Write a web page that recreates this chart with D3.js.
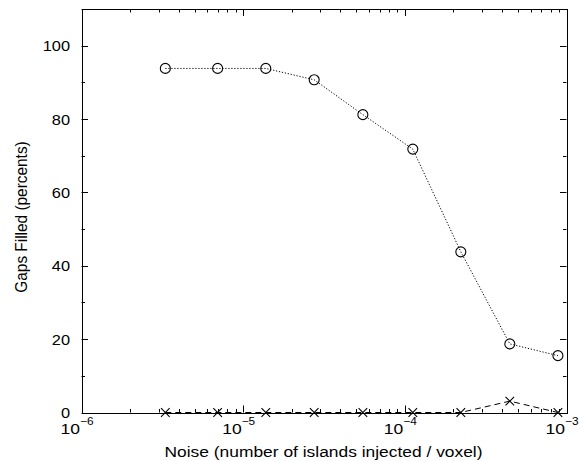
<!DOCTYPE html>
<html>
<head>
<meta charset="utf-8">
<script src="https://cdn.jsdelivr.net/npm/d3@7"></script>
<style>
  body { margin: 0; background: #fff; }
  text { font-family: "Liberation Sans", Arial, sans-serif; fill: #000; }
</style>
</head>
<body>
<div id="chart"></div>
<script>
// noise levels (islands injected / voxel)
var noise = [3.3e-6, 6.95e-6, 1.38e-5, 2.75e-5, 5.5e-5, 1.12e-4, 2.22e-4, 4.46e-4, 8.85e-4];
// gaps filled, percent
var filledCircles = [93.8, 93.8, 93.8, 90.7, 81.2, 71.8, 43.8, 18.7, 15.5];
var filledCrosses = [0, 0, 0, 0, 0, 0, 0, 3.1, 0];
var yTicks = [0, 20, 40, 60, 80, 100];
var xDecades = [-6, -5, -4, -3];

var width = 582, height = 461;
var margin = { left: 81.5, right: 15.5, top: 9, bottom: 48.5 };
var stretch = 1.13; // the original text is a little wider than tall

var svg = d3.select('#chart').append('svg')
  .attr('width', width)
  .attr('height', height);

var x = d3.scaleLog().domain([1e-6, 1e-3]).range([margin.left, width - margin.right]);
var y = d3.scaleLinear().domain([0, 110]).range([height - margin.bottom, margin.top]);

var x0 = x.range()[0], x1 = x.range()[1];
var y0 = y.range()[0], y1 = y.range()[1];

var g = svg.append('g').attr('stroke', '#000').attr('stroke-width', 1);

// minor / major ticks on x (bottom and top, pointing inward)
var xMinor = [];
for (var e = -6; e < -3; e++) {
  for (var m = 2; m <= 9; m++) xMinor.push(m * Math.pow(10, e));
}
xMinor.forEach(function(v) {
  var px = Math.round(x(v)) + 0.5;
  g.append('line').attr('x1', px).attr('x2', px).attr('y1', y0).attr('y2', y0 - 3.5);
  g.append('line').attr('x1', px).attr('x2', px).attr('y1', y1).attr('y2', y1 + 3.5);
});
xDecades.forEach(function(d) {
  var px = Math.round(x(Math.pow(10, d))) + 0.5;
  g.append('line').attr('x1', px).attr('x2', px).attr('y1', y0).attr('y2', y0 - 7);
  g.append('line').attr('x1', px).attr('x2', px).attr('y1', y1).attr('y2', y1 + 7);
});

// y ticks: major every 20, minor every 10
d3.range(0, 111, 10).forEach(function(v) {
  var py = Math.round(y(v)) + 0.5;
  var len = (v % 20 === 0) ? 6.5 : 3.5;
  g.append('line').attr('x1', x0).attr('x2', x0 + len).attr('y1', py).attr('y2', py);
  g.append('line').attr('x1', x1).attr('x2', x1 - len).attr('y1', py).attr('y2', py);
});

// frame
g.append('rect')
  .attr('x', Math.round(x0) + 0.5).attr('y', Math.round(y1) + 0.5)
  .attr('width', Math.round(x1) - Math.round(x0))
  .attr('height', Math.round(y0) - Math.round(y1))
  .attr('fill', 'none');

// y tick labels
svg.selectAll('.ylab').data(yTicks).enter().append('text')
  .attr('class', 'ylab')
  .attr('transform', function(d) {
    return 'translate(' + (x0 - 11.5) + ',' + (y(d) + 5.5) + ') scale(' + stretch + ',1)';
  })
  .attr('text-anchor', 'end')
  .attr('font-size', 14.5)
  .text(function(d) { return d; });

// x tick labels 10^n
var xl = svg.selectAll('.xlab').data(xDecades).enter().append('text')
  .attr('class', 'xlab')
  .attr('transform', function(d) {
    return 'translate(' + (x(Math.pow(10, d)) - 21) + ',' + (y0 + 21.8) + ') scale(' + stretch + ',1)';
  })
  .attr('font-size', 15.5);
xl.append('tspan').text('10');
xl.append('tspan').attr('dy', -9).attr('font-size', 10.5).text(function(d) { return '\u2212' + (-d); });

// axis titles
svg.append('text')
  .attr('transform', 'translate(323.5,' + (height - 4.5) + ') scale(' + stretch + ',1)')
  .attr('text-anchor', 'middle')
  .attr('font-size', 15.4)
  .text('Noise (number of islands injected / voxel)');

svg.append('text')
  .attr('transform', 'translate(27,217) scale(' + stretch + ',1) rotate(-90)')
  .attr('text-anchor', 'middle')
  .attr('font-size', 15.4)
  .text('Gaps Filled (percents)');

// series lines
var line = d3.line().x(function(d) { return x(d[0]); }).y(function(d) { return y(d[1]); });

var circlesData = noise.map(function(n, i) { return [n, filledCircles[i]]; });
var crossesData = noise.map(function(n, i) { return [n, filledCrosses[i]]; });

svg.append('path')
  .datum(circlesData)
  .attr('d', line)
  .attr('fill', 'none')
  .attr('stroke', '#000')
  .attr('stroke-width', 1)
  .attr('stroke-dasharray', '1.2,1.8');

svg.append('path')
  .datum(crossesData)
  .attr('d', line)
  .attr('fill', 'none')
  .attr('stroke', '#000')
  .attr('stroke-width', 1)
  .attr('stroke-dasharray', '6,4');

// markers
svg.selectAll('.circ').data(circlesData).enter().append('circle')
  .attr('class', 'circ')
  .attr('cx', function(d) { return x(d[0]); })
  .attr('cy', function(d) { return y(d[1]); })
  .attr('r', 5)
  .attr('fill', 'none')
  .attr('stroke', '#000')
  .attr('stroke-width', 1.1);

var s = 4.3;
svg.selectAll('.cross').data(crossesData).enter().append('path')
  .attr('class', 'cross')
  .attr('d', function(d) {
    var cx = x(d[0]), cy = y(d[1]);
    return 'M' + (cx - s) + ',' + (cy - s) + 'L' + (cx + s) + ',' + (cy + s) +
           'M' + (cx - s) + ',' + (cy + s) + 'L' + (cx + s) + ',' + (cy - s);
  })
  .attr('stroke', '#000')
  .attr('stroke-width', 1.1)
  .attr('fill', 'none');
</script>
</body>
</html>
